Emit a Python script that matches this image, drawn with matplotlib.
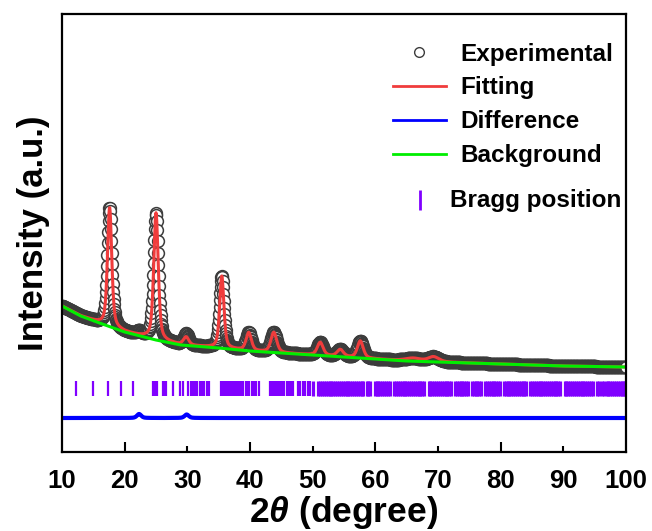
import numpy as np
import matplotlib.pyplot as plt
from matplotlib.lines import Line2D

plt.rcParams['font.family'] = ['Liberation Sans', 'DejaVu Sans']
plt.rcParams['font.weight'] = 'bold'
plt.rcParams['axes.labelweight'] = 'bold'
plt.rcParams['mathtext.fontset'] = 'custom'
plt.rcParams['mathtext.rm'] = 'Liberation Sans:bold'
plt.rcParams['mathtext.it'] = 'Liberation Sans:italic:bold'

# background points (2theta, intensity a.u.)
bg_x = [10, 13, 16, 20, 25, 29, 35, 40, 45, 50, 55, 60, 65, 70, 80, 90, 100]
bg_y = [146, 136, 129, 120, 112, 107, 104, 101, 99, 97, 95, 93, 91, 90, 88, 86, 85]

# fitted reflections: position, height above background, fwhm
peak_pos = [17.6, 25.0, 29.8, 35.5, 39.8, 43.8, 51.2, 54.4, 57.6, 66.0, 69.3]
peak_h = [119, 127, 8, 72, 18, 20, 13, 7, 17, 3, 5]
peak_w = [0.8, 0.85, 1.0, 0.8, 1.0, 1.1, 1.1, 1.2, 1.1, 3.0, 2.0]

# extra intensity in the measured pattern that the fit misses
extra_pos = [22.3, 29.9]
extra_h = [4, 3.5]
extra_w = [0.8, 0.8]

diff_offset = 34
bragg_lo, bragg_hi = 56, 71

bragg = [12.2, 15.0, 17.4, 19.4, 21.3, 24.5, 24.8, 25.2, 26.1, 26.4, 26.6, 27.7,
         28.9, 29.3, 30.1, 30.6, 30.9, 31.3, 31.6, 32.0, 32.3, 32.7, 33.1, 33.4,
         35.4, 35.7, 36.0, 36.3, 36.6, 36.9, 37.3, 37.6, 37.9, 38.2, 38.6, 38.9,
         39.3, 39.6, 39.9, 40.3, 40.6, 41.0, 41.4,
         43.2, 43.5, 43.8, 44.1, 44.4, 44.8, 45.1, 45.5, 45.9, 46.2, 46.5, 46.9,
         47.7, 48.0, 48.4, 48.8, 49.2, 49.6, 50.0,
         50.9, 51.2, 51.5, 51.8, 52.1, 52.4, 52.7, 53.0, 53.3, 53.6, 53.9, 54.2,
         54.5, 54.8, 55.1, 55.4, 55.7, 56.0, 56.3, 56.6, 56.9, 57.2, 57.5, 57.8,
         58.0, 58.6, 58.9, 59.2, 59.9, 60.2, 60.5, 60.8, 61.1, 61.4, 61.7, 62.0,
         62.3, 62.9, 63.3, 63.6, 63.9, 64.2, 64.5, 64.8, 65.1, 65.4, 65.7, 66.0,
         66.3, 66.6, 66.9, 67.2, 67.5, 67.8, 68.5, 68.8, 69.1, 69.4, 69.7, 70.0,
         70.3, 70.6, 70.9, 71.2, 71.5, 71.8, 72.1, 72.7, 73.0, 73.3, 73.6, 73.9,
         74.2, 74.5, 74.8, 75.4, 75.7, 76.0, 76.3, 76.6, 76.9, 77.5, 77.8, 78.1,
         78.4, 78.7, 79.0, 79.3, 79.6, 79.9, 80.5, 80.8, 81.1, 81.4, 81.7, 82.0,
         82.3, 82.6, 82.9, 83.2, 83.5, 83.8, 84.1, 84.7, 85.0, 85.3, 85.6, 85.9,
         86.2, 86.5, 86.8, 87.1, 87.4, 87.7, 88.0, 88.3, 88.6, 88.9, 89.2, 89.5,
         90.2, 90.5, 90.8, 91.1, 91.4, 91.7, 92.0, 92.3, 92.6, 92.9, 93.2, 93.5,
         93.8, 94.1, 94.4, 94.8, 95.3, 95.7, 96.1, 96.5, 96.9, 97.2, 97.5, 97.8,
         98.1, 98.4, 98.7, 99.0, 99.3, 99.6, 99.9]


def pv(x, pos, h, w, eta=0.5):
    g = np.exp(-4 * np.log(2) * (x - pos) ** 2 / w ** 2)
    l = 1 / (1 + 4 * (x - pos) ** 2 / w ** 2)
    return h * (eta * l + (1 - eta) * g)


tt = np.arange(10, 100.001, 0.06)
bg = np.interp(tt, bg_x, bg_y)
calc = bg.copy()
for p, h, w in zip(peak_pos, peak_h, peak_w):
    calc += pv(tt, p, h, w)
obs = calc.copy()
for p, h, w in zip(extra_pos, extra_h, extra_w):
    obs += pv(tt, p, h, w)
diff = obs - calc + diff_offset

red = '#f03c3c'
blue = '#0000ff'
green = '#00ee00'
purple = '#8000ff'
grey = '#3c3c3c'

fig = plt.figure(figsize=(6.52, 5.31), dpi=100)
ax = fig.add_axes([62 / 652, 79 / 531, 564 / 652, 438 / 531])

ax.plot(tt, obs, ls='none', marker='o', ms=8.5, mfc='white', mec=grey, mew=1.1)
ax.plot(tt, calc, color=red, lw=2.2)
ax.plot(bg_x, bg_y, color=green, lw=2.2)
ax.plot(tt, diff, color=blue, lw=3)
# thin ticks where reflections are sparse, wider ones where they crowd together
ax.vlines(bragg, bragg_lo, bragg_hi, color=purple,
          linewidths=[1.6 if b < 50 else 2.3 for b in bragg])

ax.set_xlim(10, 100)
ax.set_ylim(0, 438)
ax.set_yticks([])
ax.set_xticks(range(10, 101, 10))
ax.tick_params(axis='x', direction='in', labelsize=18.5, width=1.5, length=0, pad=12)
for v, t in zip(range(10, 101, 10), ax.xaxis.get_major_ticks()):
    t.tick1line.set_markersize(7 if v in (20, 40, 60, 80) else 4 if v in (30, 50, 70, 90) else 0)
for s in ax.spines.values():
    s.set_linewidth(1.6)

ax.set_xlabel(r'2$\mathit{\theta}$ (degree)', fontsize=25.5, labelpad=1)
ax.set_ylabel('Intensity (a.u.)', fontsize=25, labelpad=9)

handles = [
    Line2D([], [], ls='none', marker='o', ms=7, mfc='none', mec=grey, mew=1),
    Line2D([], [], color=red, lw=2),
    Line2D([], [], color=blue, lw=2),
    Line2D([], [], color=green, lw=2),
]
labels = ['Experimental', 'Fitting', 'Difference', 'Background']
ax.legend(handles, labels, loc='upper left', bbox_to_anchor=(0.569, 0.957),
          borderaxespad=0, frameon=False, fontsize=17.5,
          handlelength=2.2, labelspacing=0.45, handletextpad=0.58)

# Bragg position entry sits a little apart from the legend
ax.plot([0.635], [0.575], transform=ax.transAxes, marker='|', ms=14, mew=2,
        color=purple, ls='none', clip_on=False)
ax.text(0.688, 0.575, 'Bragg position', transform=ax.transAxes, fontsize=17.5,
        fontweight='bold', va='center', ha='left')

fig.savefig('out.png', dpi=100)
